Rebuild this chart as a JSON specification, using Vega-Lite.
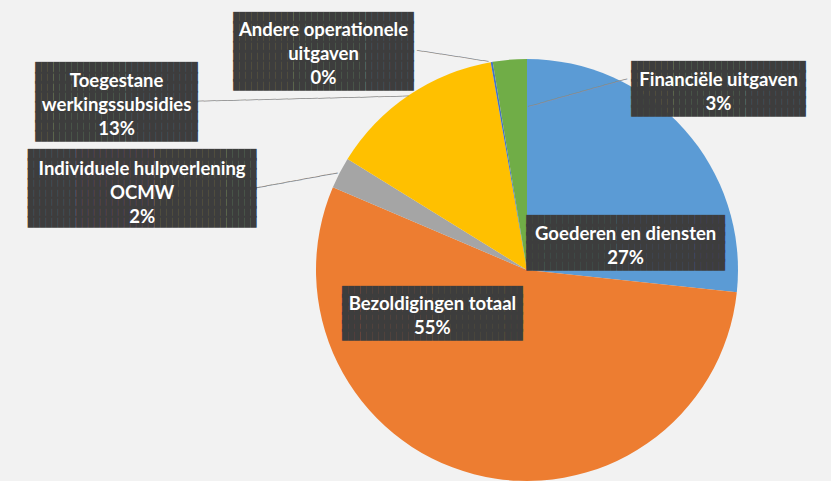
{
  "$schema": "https://vega.github.io/schema/vega-lite/v6.json",
  "width": 422,
  "height": 422,
  "autosize": {"type": "none"},
  "padding": {"left": 316, "top": 59, "right": 93, "bottom": 0},
  "background": "#f2f2f2",
  "config": {"view": {"stroke": null}},
  "data": {
    "values": [
      {"order": 1, "category": "Goederen en diensten", "label": "Goederen en diensten", "value": 26.7},
      {"order": 2, "category": "Bezoldigingen totaal", "label": "Bezoldigingen totaal", "value": 54.75},
      {"order": 3, "category": "Individuele hulpverlening OCMW", "label": "Individuele hulpverlening|OCMW", "value": 2.4},
      {"order": 4, "category": "Toegestane werkingssubsidies", "label": "Toegestane|werkingssubsidies", "value": 13.45},
      {"order": 5, "category": "Andere operationele uitgaven", "label": "Andere operationele|uitgaven", "value": 0.15},
      {"order": 6, "category": "Financiële uitgaven", "label": "Financiële uitgaven", "value": 2.6}
    ]
  },
  "transform": [
    {"joinaggregate": [{"op": "sum", "field": "value", "as": "total"}]},
    {"stack": "value", "groupby": [], "sort": [{"field": "order"}], "as": ["s0", "s1"]},
    {"calculate": "(datum.s0 + datum.s1) / 2", "as": "mid"},
    {"calculate": "split(datum.label + '|' + format(datum.value / datum.total, '.0%'), '|')", "as": "lines"}
  ],
  "layer": [
    {
      "mark": {"type": "arc"},
      "encoding": {
        "theta": {"field": "s1", "type": "quantitative", "scale": {"zero": true, "nice": false}},
        "theta2": {"field": "s0"},
        "color": {
          "field": "category",
          "type": "nominal",
          "legend": null,
          "scale": {
            "domain": ["Goederen en diensten", "Bezoldigingen totaal", "Individuele hulpverlening OCMW", "Toegestane werkingssubsidies", "Andere operationele uitgaven", "Financiële uitgaven"],
            "range": ["#5b9bd5", "#ed7d31", "#a5a5a5", "#ffc000", "#4472c4", "#70ad47"]
          }
        }
      }
    },
    {
      "transform": [{"filter": "datum.order == 4"}],
      "mark": {"type": "text", "font": "DejaVu Sans Mono", "fontSize": 10, "color": "#8c8c8c", "align": "center", "baseline": "middle", "radius": 370, "angle": -1.4, "dx": -19.9, "dy": 135,
        "text": "───────────────────────────────────"},
      "encoding": {"theta": {"field": "mid", "type": "quantitative"}}
    },
    {
      "transform": [{"filter": "datum.order == 5"}],
      "mark": {"type": "text", "font": "DejaVu Sans Mono", "fontSize": 10, "color": "#8c8c8c", "align": "center", "baseline": "middle", "radius": 250, "angle": 8.8, "dx": -27.1, "dy": 37.3,
        "text": "────────────"},
      "encoding": {"theta": {"field": "mid", "type": "quantitative"}}
    },
    {
      "transform": [{"filter": "datum.order == 3"}],
      "mark": {"type": "text", "font": "DejaVu Sans Mono", "fontSize": 10, "color": "#8c8c8c", "align": "center", "baseline": "middle", "radius": 380, "angle": -10.4, "dx": 89.3, "dy": 103.6,
        "text": "──────────────"},
      "encoding": {"theta": {"field": "mid", "type": "quantitative"}}
    },
    {
      "transform": [{"filter": "datum.order == 6"}],
      "mark": {"type": "text", "font": "DejaVu Sans Mono", "fontSize": 10, "color": "#8c8c8c", "align": "center", "baseline": "middle", "radius": 165, "angle": -15.7, "dx": 65.5, "dy": 5.4,
        "text": "─────────────────"},
      "encoding": {"theta": {"field": "mid", "type": "quantitative"}}
    },
    {
      "transform": [{"filter": "datum.order == 1"}],
      "mark": {"type": "text", "font": "DejaVu Sans Mono", "fontSize": 10, "lineHeight": 8.87, "color": "#3d3d3d", "align": "center", "baseline": "middle", "radius": 91, "dx": 31, "dy": 11.6,
        "text": ["█████████████████████████████████", "█████████████████████████████████", "█████████████████████████████████", "█████████████████████████████████", "█████████████████████████████████", "█████████████████████████████████"]},
      "encoding": {"theta": {"field": "mid", "type": "quantitative"}}
    },
    {
      "transform": [{"filter": "datum.order == 2"}],
      "mark": {"type": "text", "font": "DejaVu Sans Mono", "fontSize": 10, "lineHeight": 8.67, "color": "#3d3d3d", "align": "center", "baseline": "middle", "radius": 66, "dx": -78, "dy": -42.1,
        "text": ["██████████████████████████████", "██████████████████████████████", "██████████████████████████████", "██████████████████████████████", "██████████████████████████████", "██████████████████████████████"]},
      "encoding": {"theta": {"field": "mid", "type": "quantitative"}}
    },
    {
      "transform": [{"filter": "datum.order == 3"}],
      "mark": {"type": "text", "font": "DejaVu Sans Mono", "fontSize": 10, "lineHeight": 9.62, "color": "#3d3d3d", "align": "center", "baseline": "middle", "radius": 380, "dx": -47.5, "dy": 59.6,
        "text": ["██████████████████████████████████████", "██████████████████████████████████████", "██████████████████████████████████████", "██████████████████████████████████████", "██████████████████████████████████████", "██████████████████████████████████████", "██████████████████████████████████████", "██████████████████████████████████████"]},
      "encoding": {"theta": {"field": "mid", "type": "quantitative"}}
    },
    {
      "transform": [{"filter": "datum.order == 4"}],
      "mark": {"type": "text", "font": "DejaVu Sans Mono", "fontSize": 10, "lineHeight": 9.77, "color": "#3d3d3d", "align": "center", "baseline": "middle", "radius": 370, "dx": -203, "dy": 104.2,
        "text": ["███████████████████████████", "███████████████████████████", "███████████████████████████", "███████████████████████████", "███████████████████████████", "███████████████████████████", "███████████████████████████", "███████████████████████████"]},
      "encoding": {"theta": {"field": "mid", "type": "quantitative"}}
    },
    {
      "transform": [{"filter": "datum.order == 5"}],
      "mark": {"type": "text", "font": "DejaVu Sans Mono", "fontSize": 10, "lineHeight": 9.62, "color": "#3d3d3d", "align": "center", "baseline": "middle", "radius": 250, "dx": -161.7, "dy": -5.7,
        "text": ["██████████████████████████████", "██████████████████████████████", "██████████████████████████████", "██████████████████████████████", "██████████████████████████████", "██████████████████████████████", "██████████████████████████████", "██████████████████████████████"]},
      "encoding": {"theta": {"field": "mid", "type": "quantitative"}}
    },
    {
      "transform": [{"filter": "datum.order == 6"}],
      "mark": {"type": "text", "font": "DejaVu Sans Mono", "fontSize": 10, "lineHeight": 8.87, "color": "#3d3d3d", "align": "center", "baseline": "middle", "radius": 165, "dx": 205, "dy": -38.7,
        "text": ["█████████████████████████████", "█████████████████████████████", "█████████████████████████████", "█████████████████████████████", "█████████████████████████████", "█████████████████████████████"]},
      "encoding": {"theta": {"field": "mid", "type": "quantitative"}}
    },
    {
      "transform": [{"filter": "datum.order == 1"}],
      "mark": {"type": "text", "font": "Lato", "fontWeight": "bold", "fontSize": 18.5, "lineHeight": 24, "color": "#ffffff", "align": "center", "baseline": "middle", "radius": 91, "dx": 31, "dy": 25},
      "encoding": {"theta": {"field": "mid", "type": "quantitative"}, "text": {"field": "lines", "type": "nominal"}}
    },
    {
      "transform": [{"filter": "datum.order == 2"}],
      "mark": {"type": "text", "font": "Lato", "fontWeight": "bold", "fontSize": 18.5, "lineHeight": 24, "color": "#ffffff", "align": "center", "baseline": "middle", "radius": 66, "dx": -78, "dy": -29.6},
      "encoding": {"theta": {"field": "mid", "type": "quantitative"}, "text": {"field": "lines", "type": "nominal"}}
    },
    {
      "transform": [{"filter": "datum.order == 3"}],
      "mark": {"type": "text", "font": "Lato", "fontWeight": "bold", "fontSize": 18.5, "lineHeight": 24, "color": "#ffffff", "align": "center", "baseline": "middle", "radius": 380, "dx": -47.5, "dy": 73.5},
      "encoding": {"theta": {"field": "mid", "type": "quantitative"}, "text": {"field": "lines", "type": "nominal"}}
    },
    {
      "transform": [{"filter": "datum.order == 4"}],
      "mark": {"type": "text", "font": "Lato", "fontWeight": "bold", "fontSize": 18.5, "lineHeight": 24, "color": "#ffffff", "align": "center", "baseline": "middle", "radius": 370, "dx": -203, "dy": 117.4},
      "encoding": {"theta": {"field": "mid", "type": "quantitative"}, "text": {"field": "lines", "type": "nominal"}}
    },
    {
      "transform": [{"filter": "datum.order == 5"}],
      "mark": {"type": "text", "font": "Lato", "fontWeight": "bold", "fontSize": 18.5, "lineHeight": 24, "color": "#ffffff", "align": "center", "baseline": "middle", "radius": 250, "dx": -161.7, "dy": 6.8},
      "encoding": {"theta": {"field": "mid", "type": "quantitative"}, "text": {"field": "lines", "type": "nominal"}}
    },
    {
      "transform": [{"filter": "datum.order == 6"}],
      "mark": {"type": "text", "font": "Lato", "fontWeight": "bold", "fontSize": 18.5, "lineHeight": 24, "color": "#ffffff", "align": "center", "baseline": "middle", "radius": 165, "dx": 205, "dy": -25.2},
      "encoding": {"theta": {"field": "mid", "type": "quantitative"}, "text": {"field": "lines", "type": "nominal"}}
    }
  ]
}
